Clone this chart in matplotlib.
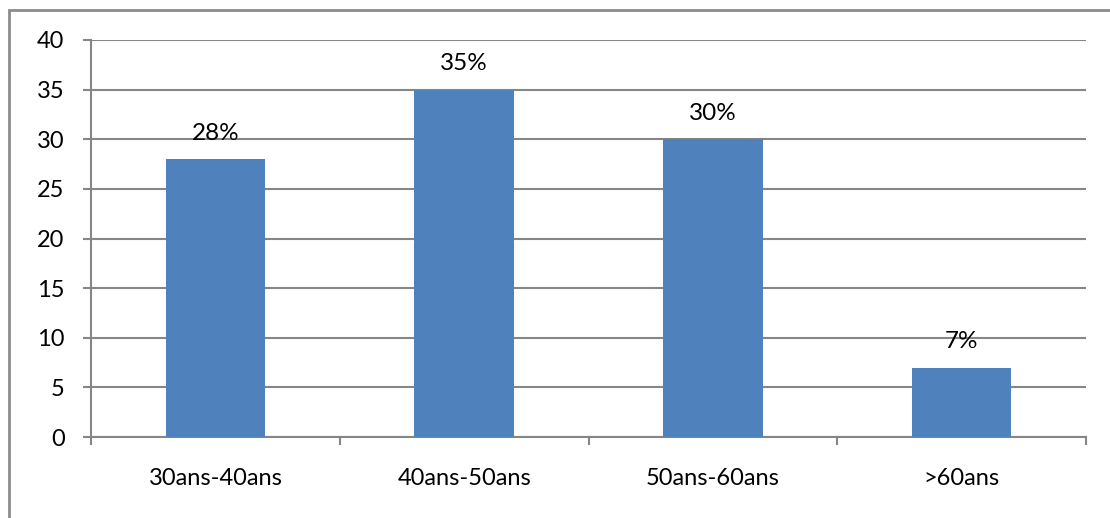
import matplotlib.pyplot as plt
from matplotlib.patches import Rectangle

categories = ["30ans-40ans", "40ans-50ans", "50ans-60ans", ">60ans"]
values = [28, 35, 30, 7]
labels = ["28%", "35%", "30%", "7%"]
yticks = [0, 5, 10, 15, 20, 25, 30, 35, 40]

plt.rcParams['font.family'] = ['Lato', 'DejaVu Sans']

fig = plt.figure(figsize=(11.10, 5.18), dpi=100)
ax = fig.add_axes([91 / 1110, 1 - 437 / 518, (1086 - 91) / 1110, (437 - 40) / 518])

grid_col = "#868686"
pos = list(range(len(categories)))
ax.bar(pos, values, width=0.4, color="#4F81BD", zorder=3)

for p, v, lab in zip(pos, values, labels):
    ax.text(p, v + 2.6, lab, ha="center", va="center", fontsize=17.5, color="black", zorder=4)

ax.set_xlim(-0.5, len(categories) - 0.5)
ax.set_ylim(0, 40)
ax.set_yticks(yticks)
ax.set_yticklabels([str(t) for t in yticks], fontsize=17)
ax.yaxis.grid(True, color=grid_col, linewidth=1.5, zorder=0)
ax.set_axisbelow(True)

# category labels centred, tick marks at boundaries
ax.set_xticks(pos)
ax.set_xticklabels(categories, fontsize=17)
ax.tick_params(axis="x", length=0, pad=22)
ax.set_xticks([-0.5, 0.5, 1.5, 2.5, 3.5], minor=True)
ax.tick_params(axis="x", which="minor", length=6, width=1.5, color=grid_col)
ax.tick_params(axis="y", length=6, width=1.5, color=grid_col, pad=13)

for s in ["top", "right"]:
    ax.spines[s].set_visible(False)
for s in ["left", "bottom"]:
    ax.spines[s].set_color(grid_col)
    ax.spines[s].set_linewidth(1.5)

# outer chart frame (only left and top edges visible)
fig.patches.append(Rectangle((9 / 1110, -0.1), 1.2, 1 - 10 / 518 + 0.1, transform=fig.transFigure,
                             fill=False, edgecolor="#8c8c8c", linewidth=2))

fig.savefig("out.png", dpi=100)
